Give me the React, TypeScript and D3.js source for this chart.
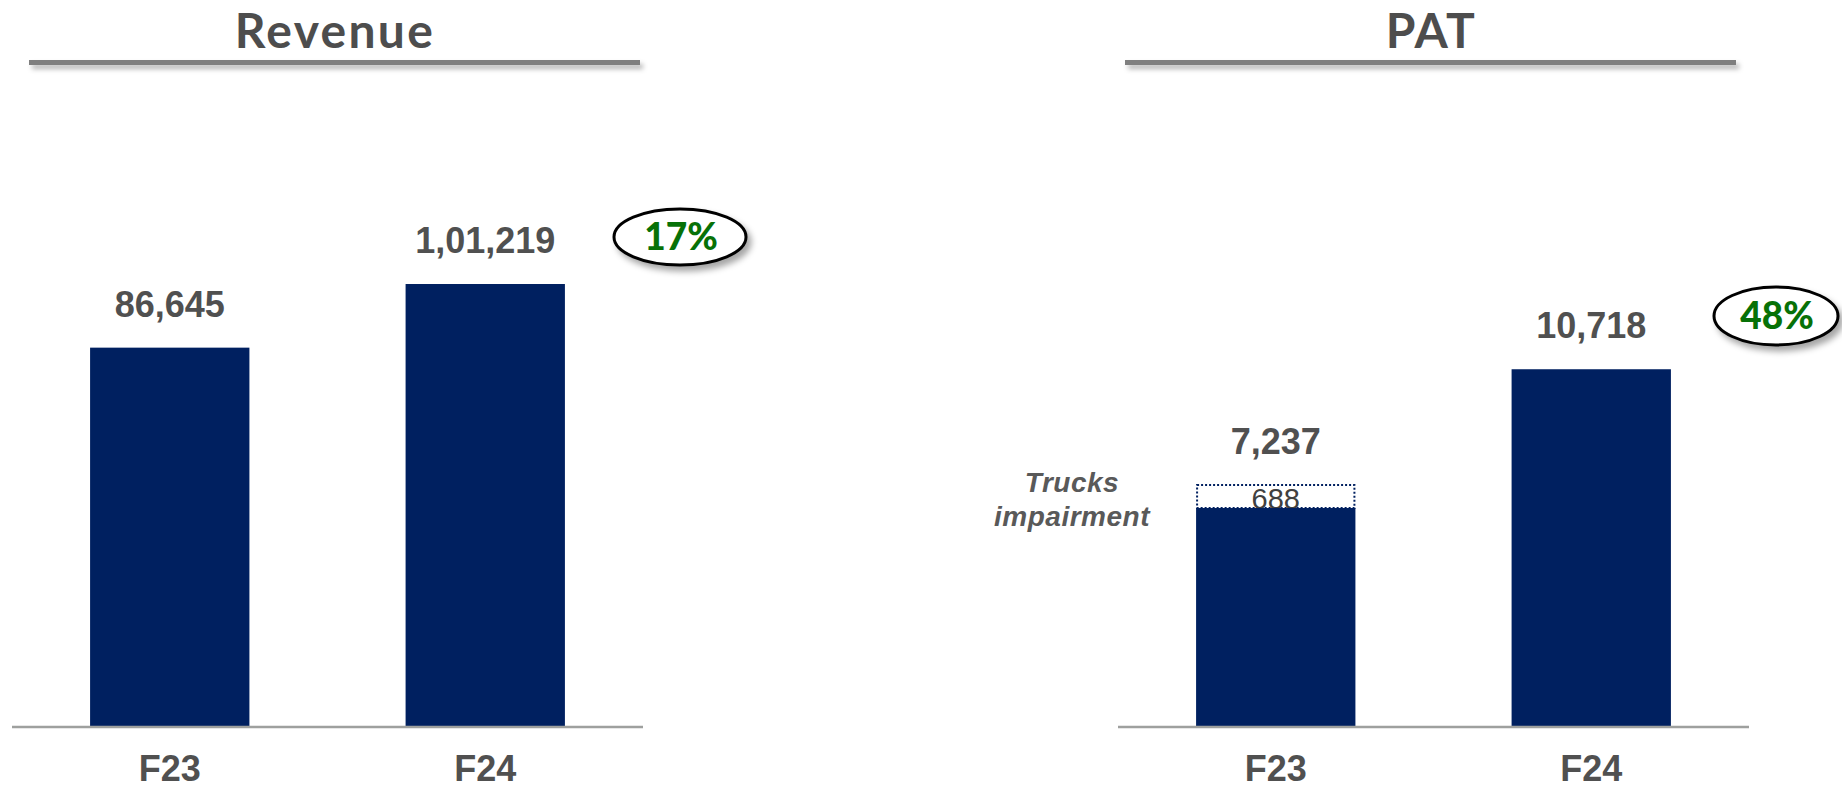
import React from 'react';
import * as d3 from 'd3';

// chart data
const categories = ['F23', 'F24'];
const revenueValues = [86645, 101219];
const patValues = [7237, 10718];
const patImpairment = [688, 0]; // part of the PAT bar shown as a dotted box
const revenueGrowth = '17%';
const patGrowth = '48%';
const impairmentNote = ['Trucks', 'impairment'];

const W = 1842;
const H = 788;
const NAVY = '#002060';
const GREY_TEXT = '#505050';
const GREEN = '#077107';

// Indian digit grouping: 101219 -> 1,01,219
const formatIN = (v: number) => {
  const s = String(Math.round(v));
  if (s.length <= 3) return s;
  const last3 = s.slice(-3);
  const rest = s.slice(0, -3).replace(/\B(?=(\d{2})+(?!\d))/g, ',');
  return `${rest},${last3}`;
};

interface PanelProps {
  title: string;
  values: number[];
  dotted?: number[];
  yMax: number;
  yTop: number;
  x0: number;
  titleX: number;
  growth: string;
  badge: { cx: number; cy: number; rx: number; ry: number };
  note?: React.ReactNode;
}

const baseY = 726;

const Panel: React.FC<PanelProps> = ({ title, values, dotted, yMax, yTop, x0, titleX, growth, badge, note }) => {
  const x = d3.scaleBand<string>()
    .domain(categories)
    .range([x0, x0 + 631])
    .paddingInner(0.495)
    .paddingOuter(0.2475);

  const y = d3.scaleLinear().domain([0, yMax]).range([baseY, yTop]);

  return (
    <g>
      {/* title + underline */}
      <text x={titleX} y={48} textAnchor="middle" fontFamily="Lato" fontWeight={700}
        fontSize={48} fill="#4d4d4d" letterSpacing={title.length > 3 ? 2.3 : 1.5}>{title}</text>
      <rect x={titleX - 306} width={611} y={60} height={5} fill="#7f7f7f"
        filter="url(#lineShadow)" />

      {/* bars */}
      {categories.map((c, i) => {
        const imp = dotted ? dotted[i] : 0;
        const solid = values[i] - imp;
        const bx = x(c) as number;
        const bw = x.bandwidth();
        const cx = bx + bw / 2;
        return (
          <g key={c}>
            {imp > 0 && (
              <>
                <rect x={bx + 1} y={y(values[i])} width={bw - 2} height={y(solid) - y(values[i])}
                  fill="white" stroke={NAVY} strokeWidth={2} strokeDasharray="2,2" />
                <text x={cx} y={y(solid) + 1} textAnchor="middle" fontFamily="Liberation Sans"
                  fontSize={29} fill="#404040">{formatIN(imp)}</text>
              </>
            )}
            <rect x={bx} y={y(solid)} width={bw} height={baseY - y(solid)} fill={NAVY} />
            <text x={cx} y={y(values[i]) - 31} textAnchor="middle" fontFamily="Liberation Sans"
              fontWeight={700} fontSize={36} fill={GREY_TEXT}>{formatIN(values[i])}</text>
            <text x={cx} y={781} textAnchor="middle" fontFamily="Liberation Sans"
              fontWeight={700} fontSize={36} fill={GREY_TEXT}>{c}</text>
          </g>
        );
      })}

      {/* baseline */}
      <line x1={x0} x2={x0 + 631} y1={baseY + 1} y2={baseY + 1} stroke="#9ea09e" strokeWidth={2.5} />

      {/* growth badge */}
      <ellipse cx={badge.cx} cy={badge.cy} rx={badge.rx} ry={badge.ry} fill="white"
        stroke="black" strokeWidth={3} filter="url(#badgeShadow)" />
      <text x={badge.cx + 1} y={badge.cy + 13} textAnchor="middle" fontFamily="Lato"
        fontWeight={900} fontSize={37} fill={GREEN}>{growth}</text>

      {note}
    </g>
  );
};

export default function App() {
  return (
    <svg width={W} height={H} viewBox={`0 0 ${W} ${H}`}
      style={{ position: 'absolute', left: 0, top: 0, background: 'white' }}>
      <defs>
        <filter id="lineShadow" x="-5%" y="-100%" width="110%" height="400%">
          <feDropShadow dx={3} dy={4} stdDeviation={2.5} floodColor="#000" floodOpacity={0.3} />
        </filter>
        <filter id="badgeShadow" x="-20%" y="-30%" width="150%" height="170%">
          <feDropShadow dx={4} dy={5} stdDeviation={3} floodColor="#000" floodOpacity={0.35} />
        </filter>
      </defs>

      <Panel title="Revenue" values={revenueValues} yMax={120000} yTop={202}
        x0={12} titleX={335} growth={revenueGrowth}
        badge={{ cx: 680, cy: 237, rx: 66, ry: 28 }} />

      <Panel title="PAT" values={patValues} dotted={patImpairment} yMax={14000} yTop={260}
        x0={1118} titleX={1431} growth={patGrowth}
        badge={{ cx: 1776, cy: 316, rx: 62, ry: 29 }}
        note={
          <g fontFamily="Liberation Sans" fontStyle="italic" fontWeight={700}
            fontSize={28} letterSpacing={0.5} fill="#595959" textAnchor="middle">
            <text x={1072} y={492}>{impairmentNote[0]}</text>
            <text x={1072} y={526}>{impairmentNote[1]}</text>
          </g>
        } />
    </svg>
  );
}
